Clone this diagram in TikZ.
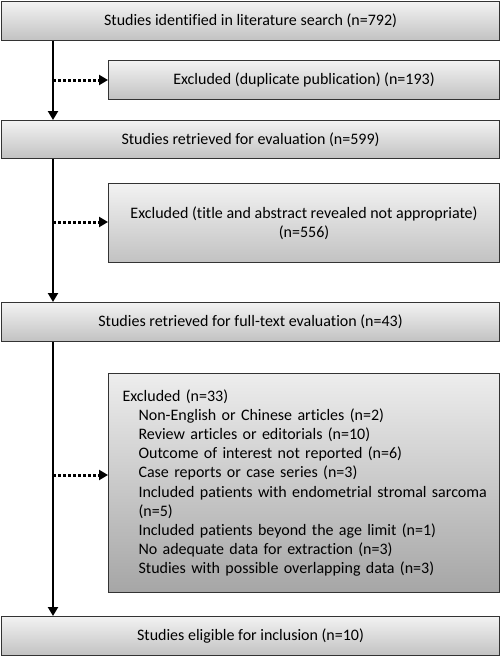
\documentclass[tikz,border=0pt]{standalone}
\usepackage{fontspec}
\setmainfont[Ligatures=NoCommon]{Carlito}
\usetikzlibrary{arrows.meta, positioning, calc}

\tikzset{
  stagebox/.style={draw=black!80, line width=1.1pt, rectangle, anchor=north west,
    top color=black!5, bottom color=black!24, minimum height=39pt, inner sep=0pt,
    font=\fontsize{16}{19.5}\selectfont},
  exclbox/.style={stagebox, top color=black!7, bottom color=black!35},
  mainline/.style={line width=2.2pt, -{Triangle[length=9pt, width=10pt]}},
  exclline/.style={line width=3pt, dotted, -{Triangle[length=9pt, width=10pt]}}
}

\begin{document}
\begin{tikzpicture}[x=1pt, y=-1pt]
\useasboundingbox (0,0) rectangle (500,657);

% main stages
\node[stagebox, minimum width=498pt] (ident) at (1,1) {Studies identified in literature search (n=792)};
\node[stagebox, minimum width=498pt, minimum height=38pt] (retr) at (1,120) {Studies retrieved for evaluation (n=599)};
\node[stagebox, minimum width=498pt] (full) at (1,302) {Studies retrieved for full-text evaluation (n=43)};
\node[stagebox, minimum width=498pt] (incl) at (1,616) {Studies eligible for inclusion (n=10)};

% exclusions
\node[stagebox, minimum width=391pt] (dup) at (108,60) {Excluded (duplicate publication) (n=193)};
\node[stagebox, minimum width=391pt, minimum height=79pt, align=center] (title) at (108,183)
  {Excluded (title and abstract revealed not appropriate)\\(n=556)};
\node[exclbox, minimum width=391pt, minimum height=219pt, text width=380pt, align=left,
  font=\fontsize{16}{19.2}\selectfont] (full-ex) at (108,373)
  {\hspace*{8.5pt}Excluded (n=33)\\
   \hspace*{24.5pt}Non-English or Chinese articles (n=2)\\
   \hspace*{24.5pt}Review articles or editorials (n=10)\\
   \hspace*{24.5pt}Outcome of interest not reported (n=6)\\
   \hspace*{24.5pt}Case reports or case series (n=3)\\
   \hspace*{24.5pt}Included patients with endometrial stromal sarcoma\\
   \hspace*{24.5pt}(n=5)\\
   \hspace*{24.5pt}Included patients beyond the age limit (n=1)\\
   \hspace*{24.5pt}No adequate data for extraction (n=3)\\
   \hspace*{24.5pt}Studies with possible overlapping data (n=3)};

% flow
\coordinate (a1) at (53,80);
\coordinate (a2) at (53,222);
\coordinate (a3) at (53,475);
\draw[mainline] (ident.south -| a1) -- (retr.north -| a1);
\draw[mainline] (retr.south -| a1) -- (full.north -| a1);
\draw[mainline] (full.south -| a1) -- (incl.north -| a1);
\draw[exclline] (a1) -- (dup.west |- a1);
\draw[exclline] (a2) -- (title.west |- a2);
\draw[exclline] (a3) -- (full-ex.west |- a3);
\end{tikzpicture}
\end{document}
